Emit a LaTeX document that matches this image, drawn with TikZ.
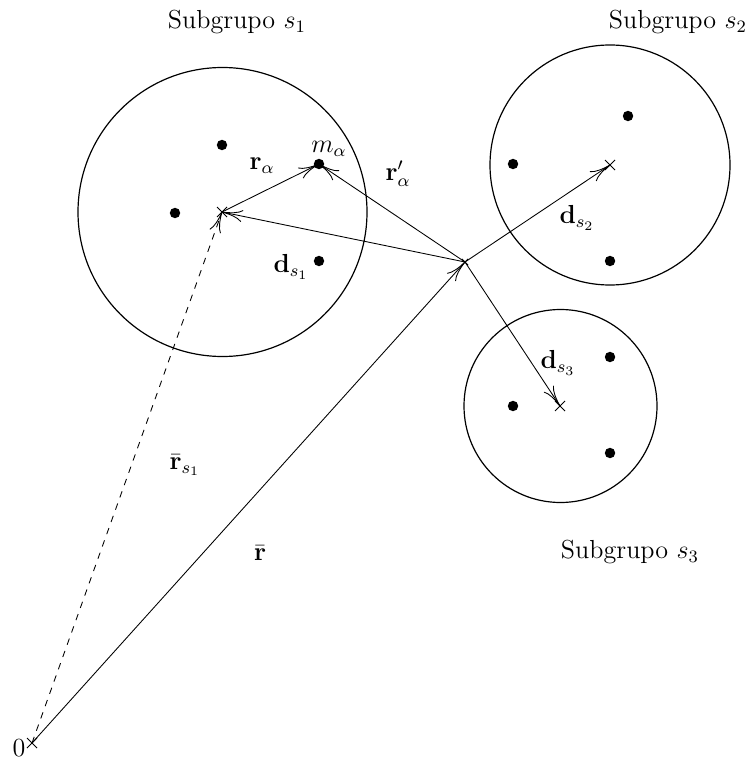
\documentclass[tikz,border=0pt]{standalone}
\usetikzlibrary{shapes.misc,arrows.meta}
\begin{document}
\begin{tikzpicture}[x=0.46pt,y=-0.46pt,
  every node/.style={font=\large},
  dot/.style={circle,fill,inner sep=0pt,minimum size=4.8pt},
  crossmark/.style={cross out,draw,inner sep=0pt,minimum size=4.2pt},
  vec/.style={-{Computer Modern Rightarrow[length=9.5pt,width=5.5pt]}},
  lbl/.style={inner sep=1pt}]
\useasboundingbox (0,0) rectangle (748,764);
% circles
\draw[line width=0.55pt] (222.5,212) circle[radius=144.5*0.46pt];
\draw[line width=0.55pt] (610,165) circle[radius=120*0.46pt];
\draw[line width=0.55pt] (560.5,406) circle[radius=96.5*0.46pt];
% key points
\coordinate (c1) at (222,212);
\coordinate (c2) at (610,165);
\coordinate (c3) at (560,406);
\coordinate (P) at (465,262);
\coordinate (O) at (32,743);
\coordinate (ma) at (319,164);
% dots
\node[dot] (d11) at (222,145) {};
\node[dot] (d12) at (175,213) {};
\node[dot] (d13) at (ma) {};
\node[dot] (d14) at (319,261) {};
\node[dot] (d21) at (628,116) {};
\node[dot] (d22) at (513,164) {};
\node[dot] (d23) at (610,261) {};
\node[dot] (d31) at (610,357) {};
\node[dot] (d32) at (513,406) {};
\node[dot] (d33) at (610,453) {};
% crosses
\node[crossmark] (x1) at (c1) {};
\node[crossmark] (x2) at (c2) {};
\node[crossmark] (x3) at (c3) {};
\node[crossmark] (x0) at (O) {};
\node[crossmark,minimum size=2.5pt] (xP) at (P) {};
% vectors
\draw[vec] (P) -- (c1);
\draw[vec] (c1) -- (ma);
\draw[vec] (P) -- (ma);
\draw[vec] (P) -- (c2);
\draw[vec] (P) -- (c3);
\draw[vec] (O) -- (P);
\draw[vec,dashed] (O) -- (c1);
% labels
\node[lbl] (t1) at (237,22) {Subgrupo $s_1$};
\node[lbl] (t2) at (678,22) {Subgrupo $s_2$};
\node[lbl] (t3) at (630,552) {Subgrupo $s_3$};
\node[lbl] (lra) at (262,166) {$\mathbf{r}_\alpha$};
\node[lbl] (lma) at (329,149) {$m_\alpha$};
\node[lbl] (lrap) at (398,174) {$\mathbf{r}'_\alpha$};
\node[lbl] (lds1) at (291,267) {$\mathbf{d}_{s_1}$};
\node[lbl] (lds2) at (577,218) {$\mathbf{d}_{s_2}$};
\node[lbl] (lds3) at (558,363) {$\mathbf{d}_{s_3}$};
\node[lbl] (lrs1) at (185,465) {$\bar{\mathbf{r}}_{s_1}$};
\node[lbl] (lr) at (260,553) {$\bar{\mathbf{r}}$};
\node[lbl] (l0) at (19,748) {0};
\end{tikzpicture}
\end{document}
